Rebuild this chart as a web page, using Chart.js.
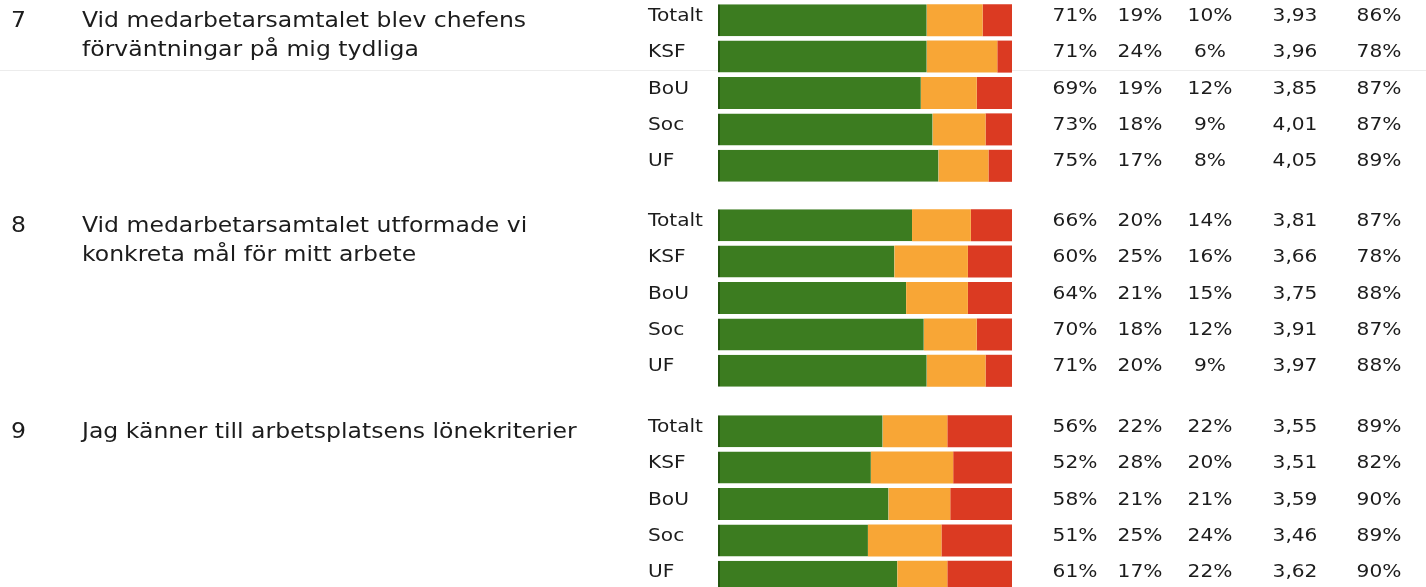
<!DOCTYPE html>
<html>
<head>
<meta charset="utf-8">
<script src="https://cdn.jsdelivr.net/npm/chart.js@4.4.1/dist/chart.umd.min.js"></script>
<style>
  html, body { margin: 0; padding: 0; background: #fff; width: 1426px; height: 587px; overflow: hidden; }
  .grp { position: absolute; left: 0; }
  .scanline { position: absolute; left: 0; top: 70px; width: 1426px; height: 1px; background: #ececec; }
</style>
</head>
<body>
<div class="scanline"></div>
<div class="grp" style="top:0px"><canvas id="q7" width="1426" height="200"></canvas></div>
<div class="grp" style="top:200px"><canvas id="q8" width="1426" height="200"></canvas></div>
<div class="grp" style="top:400px"><canvas id="q9" width="1426" height="200"></canvas></div>
<script>
// units shown for every question
var units = ['Totalt', 'KSF', 'BoU', 'Soc', 'UF'];

var questionNo = ['7', '8', '9'];
var questionText = [
  ['Vid medarbetarsamtalet blev chefens', 'förväntningar på mig tydliga'],
  ['Vid medarbetarsamtalet utformade vi', 'konkreta mål för mitt arbete'],
  ['Jag känner till arbetsplatsens lönekriterier']
];

// share agreeing / neutral / disagreeing (%), mean score, response rate (%)
var q7Pos = [71, 71, 69, 73, 75];
var q7Neu = [19, 24, 19, 18, 17];
var q7Neg = [10, 6, 12, 9, 8];
var q7Mean = [3.93, 3.96, 3.85, 4.01, 4.05];
var q7Resp = [86, 78, 87, 87, 89];

var q8Pos = [66, 60, 64, 70, 71];
var q8Neu = [20, 25, 21, 18, 20];
var q8Neg = [14, 16, 15, 12, 9];
var q8Mean = [3.81, 3.66, 3.75, 3.91, 3.97];
var q8Resp = [87, 78, 88, 87, 88];

var q9Pos = [56, 52, 58, 51, 61];
var q9Neu = [22, 28, 21, 25, 17];
var q9Neg = [22, 20, 21, 24, 22];
var q9Mean = [3.55, 3.51, 3.59, 3.46, 3.62];
var q9Resp = [89, 82, 90, 89, 90];

var colors = {
  green: '#3c7c20',
  greenEdge: '#24560f',
  orange: '#f8a636',
  red: '#db3a22',
  text: '#1c1c1c'
};

var FONT = '"DejaVu Sans", Verdana, sans-serif';
var STRETCH = 1.12; // the scanned table is a bit wider than the font

function stretchedText(ctx, txt, x, y, align) {
  ctx.save();
  ctx.translate(x, y);
  ctx.scale(STRETCH, 1);
  ctx.textAlign = align;
  ctx.fillText(txt, 0, 0);
  ctx.restore();
}

// draws the labels, question text and value columns next to the bars
var tablePlugin = {
  id: 'tableText',
  afterDraw: function (chart) {
    var ctx = chart.ctx;
    var y = chart.scales.y;
    var t = chart.options.plugins.tableText;
    ctx.save();
    ctx.fillStyle = colors.text;
    ctx.textBaseline = 'middle';

    var top = y.getPixelForValue(0);
    ctx.font = '21px ' + FONT;
    stretchedText(ctx, t.no, 11, top + 1, 'left');
    for (var l = 0; l < t.text.length; l++) {
      stretchedText(ctx, t.text[l], 82, top + 1 + l * 29, 'left');
    }

    ctx.font = '18px ' + FONT;
    var cols = [1075, 1140, 1210, 1295, 1379];
    for (var i = 0; i < units.length; i++) {
      var cy = y.getPixelForValue(i) - 4;
      stretchedText(ctx, units[i], 648, cy, 'left');
      stretchedText(ctx, t.pos[i] + '%', cols[0], cy, 'center');
      stretchedText(ctx, t.neu[i] + '%', cols[1], cy, 'center');
      stretchedText(ctx, t.neg[i] + '%', cols[2], cy, 'center');
      stretchedText(ctx, t.mean[i].toFixed(2).replace('.', ','), cols[3], cy, 'center');
      stretchedText(ctx, t.resp[i] + '%', cols[4], cy, 'center');
    }
    ctx.restore();
  }
};

function drawGroup(id, idx, pos, neu, neg, mean, resp, padTop, padBottom) {
  new Chart(document.getElementById(id).getContext('2d'), {
    type: 'bar',
    data: {
      labels: units,
      datasets: [
        { data: pos, backgroundColor: colors.green, borderColor: colors.greenEdge,
          borderWidth: { left: 2, top: 0, right: 0, bottom: 0 }, borderSkipped: false },
        { data: neu, backgroundColor: colors.orange },
        { data: neg, backgroundColor: colors.red }
      ]
    },
    options: {
      indexAxis: 'y',
      responsive: false,
      animation: false,
      events: [],
      layout: { padding: { left: 718, right: 414, top: padTop, bottom: padBottom } },
      datasets: { bar: { categoryPercentage: 1, barPercentage: 0.88, borderWidth: 0 } },
      scales: {
        x: { stacked: true, min: 0, max: 100, display: false },
        y: { stacked: true, display: false }
      },
      plugins: {
        legend: { display: false },
        tooltip: { enabled: false },
        tableText: {
          no: questionNo[idx], text: questionText[idx],
          pos: pos, neu: neu, neg: neg, mean: mean, resp: resp
        }
      }
    },
    plugins: [tablePlugin]
  });
}

drawGroup('q7', 0, q7Pos, q7Neu, q7Neg, q7Mean, q7Resp, 2, 16);
drawGroup('q8', 1, q8Pos, q8Neu, q8Neg, q8Mean, q8Resp, 7, 11);
drawGroup('q9', 2, q9Pos, q9Neu, q9Neg, q9Mean, q9Resp, 13, 5);
</script>
</body>
</html>
